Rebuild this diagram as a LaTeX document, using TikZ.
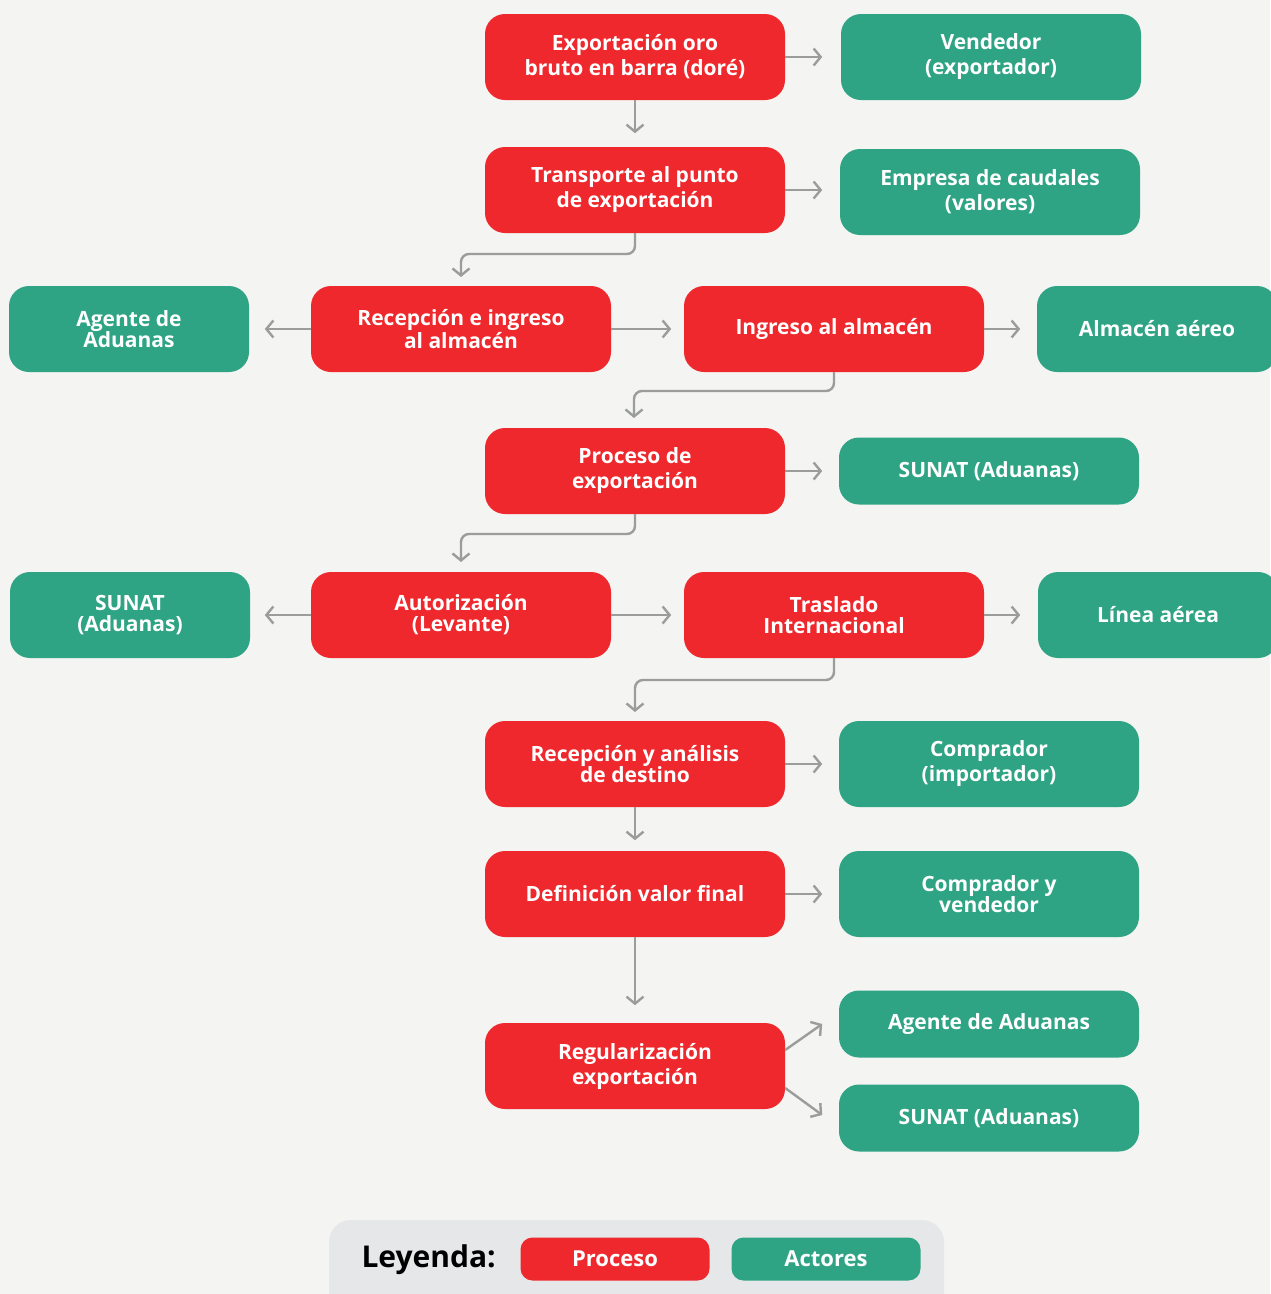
\documentclass[tikz,border=0pt]{standalone}
\usepackage{fontspec}
\setmainfont{Open Sans}
\usetikzlibrary{arrows.meta}
\definecolor{procred}{HTML}{EE282C}
\definecolor{actgreen}{HTML}{2EA484}
\definecolor{bgc}{HTML}{F4F4F2}
\definecolor{legbg}{HTML}{E6E7E8}
\definecolor{arrgray}{HTML}{9B9C9C}
\tikzset{
  box/.style={rectangle, rounded corners=20pt, minimum width=300pt, minimum height=86pt, inner sep=0pt, align=center, text=white, font=\fontsize{21}{25}\selectfont\bfseries},
  proc/.style={box, fill=procred},
  act/.style={box, fill=actgreen},
  narrow/.style={minimum width=240pt},
  short/.style={minimum height=67pt},
  tight/.style={font=\fontsize{21}{21}\selectfont\bfseries},
  conn/.style={draw=arrgray, line width=2.4pt, rounded corners=8pt, -{Straight Barb[length=7pt, width=17pt, line width=2.4pt]}},
}
\begin{document}
\begin{tikzpicture}[x=1pt,y=-1pt]
\fill[bgc] (0,0) rectangle (1270,1294);
\useasboundingbox (0,0) rectangle (1270,1294);
% row 1
\node[proc] (p1) at (635,57) {Exportación oro\\bruto en barra (doré)};
\node[act] (a1) at (991,57) {Vendedor\\(exportador)};
% row 2
\node[proc] (p2) at (635,190) {Transporte al punto\\de exportación};
\node[act] (a2) at (990,192) {Empresa de caudales\\(valores)};
% row 3
\node[act,narrow,tight] (a3) at (129,329) {Agente de\\Aduanas};
\node[proc,tight] (p3) at (461,329) {Recepción e ingreso\\al almacén};
\node[proc] (p4) at (834,329) {Ingreso al almacén};
\node[act,narrow] (a4) at (1157,329) {Almacén aéreo};
% row 4
\node[proc] (p5) at (635,471) {Proceso de\\exportación};
\node[act,short] (a5) at (989,471) {SUNAT (Aduanas)};
% row 5
\node[act,narrow,tight] (a6) at (130,615) {SUNAT\\(Aduanas)};
\node[proc,tight] (p6) at (461,615) {Autorización\\(Levante)};
\node[proc,tight] (p7) at (834,615) {Traslado\\Internacional};
\node[act,narrow] (a7) at (1158,615) {Línea aérea};
% row 6
\node[proc,tight] (p8) at (635,764) {Recepción y análisis\\de destino};
\node[act] (a8) at (989,764) {Comprador\\(importador)};
% row 7
\node[proc] (p9) at (635,894) {Definición valor final};
\node[act,tight] (a9) at (989,894) {Comprador y\\vendedor};
% row 8
\node[proc] (p10) at (635,1066) {Regularización\\exportación};
\node[act,short] (a10) at (989,1024) {Agente de Aduanas};
\node[act,short] (a11) at (989,1118) {SUNAT (Aduanas)};
% connectors
\draw[conn] (p1.east) -- ++(37,0);
\draw[conn] (p1.south) -- ++(0,33);
\draw[conn] (p2.east) -- ++(37,0);
\draw[conn] (p2.south) |- (461,254) -- (461,277);
\draw[conn] (p3.west) -- ++(-46,0);
\draw[conn] (p3.east) -- ++(60,0);
\draw[conn] (p4.east) -- ++(36,0);
\draw[conn] (p4.south) |- (634,391) -- (634,418);
\draw[conn] (p5.east) -- ++(37,0);
\draw[conn] (p5.south) |- (461,534) -- (461,562);
\draw[conn] (p6.west) -- ++(-46,0);
\draw[conn] (p6.east) -- ++(60,0);
\draw[conn] (p7.east) -- ++(36,0);
\draw[conn] (p7.south) |- (635,680) -- (635,712);
\draw[conn] (p8.east) -- ++(37,0);
\draw[conn] (p8.south) -- ++(0,33);
\draw[conn] (p9.east) -- ++(37,0);
\draw[conn] (p9.south) -- ++(0,68);
\draw[conn] ([yshift=16pt]p10.east) -- ++(37,-26);
\draw[conn] ([yshift=-22pt]p10.east) -- ++(37,27);
% legend
\fill[legbg, rounded corners=22pt] (329,1220) rectangle (944,1320);
\node[font=\fontsize{30}{32}\selectfont\bfseries, text=black, anchor=west] (lt) at (358,1260) {Leyenda:};
\node[rectangle, rounded corners=12pt, fill=procred, minimum width=189pt, minimum height=43pt, inner sep=0pt, text=white, font=\fontsize{22}{24}\selectfont\bfseries] (lp) at (615,1259) {Proceso};
\node[rectangle, rounded corners=12pt, fill=actgreen, minimum width=189pt, minimum height=43pt, inner sep=0pt, text=white, font=\fontsize{22}{24}\selectfont\bfseries] (la) at (826,1259) {Actores};
\end{tikzpicture}
\end{document}
